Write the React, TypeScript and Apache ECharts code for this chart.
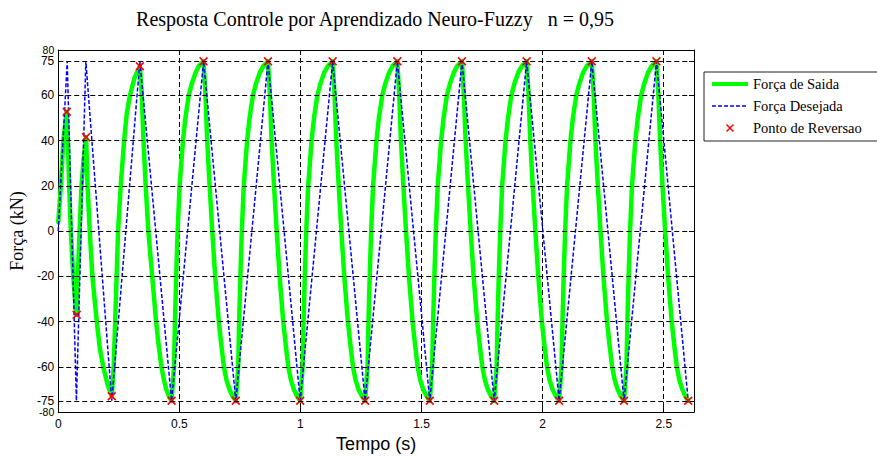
import React, { useEffect, useRef } from 'react';
import * as echarts from 'echarts';

const titulo = 'Resposta Controle por Aprendizado Neuro-Fuzzy   n = 0,95';
const nomeEixoX = 'Tempo (s)';
const nomeEixoY = 'Força (kN)';
const nomeSaida = 'Força de Saida';
const nomeDesejada = 'Força Desejada';
const nomeReversao = 'Ponto de Reversao';

const xTicks = [0, 0.5, 1, 1.5, 2, 2.5];
const yTicks = [-75, -60, -40, -20, 0, 20, 40, 60, 75];
const yTickTopo = [80];
const yTickBase = [-80];
const yGrade = [-75, -60, -40, -20, 0, 20, 40, 60, 75];

const forcaSaida: [number, number][] = [
  [0, 4], [0.011, 20], [0.021, 40], [0.035, 52.7],
  [0.04, 40], [0.045, 20], [0.052, 0], [0.062, -20], [0.069, -30], [0.076, -37],
  [0.081, -20], [0.088, 0], [0.096, 20], [0.105, 32], [0.115, 41.5],
  [0.121, 20], [0.13, 0], [0.141, -20], [0.159, -40], [0.172, -52], [0.186, -60], [0.204, -68], [0.221, -73],
  [0.229, -60], [0.235, -40], [0.241, -20], [0.247, 0], [0.258, 20], [0.272, 40], [0.283, 52], [0.296, 60], [0.316, 68], [0.337, 72.8],
  [0.345, 60], [0.352, 40], [0.361, 20], [0.372, 0], [0.388, -20], [0.404, -40], [0.414, -50], [0.426, -60], [0.437, -66], [0.446, -70], [0.457, -73], [0.468, -75],
  [0.478, -60], [0.482, -40], [0.487, -20], [0.493, 0], [0.501, 20], [0.515, 40], [0.525, 50], [0.539, 60], [0.551, 65], [0.567, 70], [0.581, 73], [0.6, 75],
  [0.608, 60], [0.615, 40], [0.625, 20], [0.636, 0], [0.648, -20], [0.663, -40], [0.673, -50], [0.684, -60], [0.695, -66], [0.707, -70], [0.72, -73], [0.733, -75],
  [0.743, -60], [0.747, -40], [0.752, -20], [0.758, 0], [0.766, 20], [0.78, 40], [0.79, 50], [0.804, 60], [0.816, 65], [0.832, 70], [0.847, 73], [0.866, 75],
  [0.874, 60], [0.881, 40], [0.891, 20], [0.902, 0], [0.914, -20], [0.929, -40], [0.939, -50], [0.95, -60], [0.961, -66], [0.973, -70], [0.986, -73], [0.999, -75],
  [1.009, -60], [1.013, -40], [1.018, -20], [1.024, 0], [1.032, 20], [1.046, 40], [1.056, 50], [1.07, 60], [1.082, 65], [1.098, 70], [1.114, 73], [1.133, 75],
  [1.141, 60], [1.148, 40], [1.158, 20], [1.169, 0], [1.181, -20], [1.196, -40], [1.206, -50], [1.217, -60], [1.228, -66], [1.24, -70], [1.254, -73], [1.267, -75],
  [1.277, -60], [1.281, -40], [1.286, -20], [1.292, 0], [1.3, 20], [1.314, 40], [1.324, 50], [1.338, 60], [1.35, 65], [1.366, 70], [1.381, 73], [1.4, 75],
  [1.408, 60], [1.415, 40], [1.425, 20], [1.436, 0], [1.448, -20], [1.463, -40], [1.473, -50], [1.484, -60], [1.495, -66], [1.507, -70], [1.521, -73], [1.534, -75],
  [1.544, -60], [1.548, -40], [1.553, -20], [1.559, 0], [1.567, 20], [1.581, 40], [1.591, 50], [1.605, 60], [1.617, 65], [1.633, 70], [1.648, 73], [1.667, 75],
  [1.675, 60], [1.682, 40], [1.692, 20], [1.703, 0], [1.715, -20], [1.73, -40], [1.74, -50], [1.751, -60], [1.762, -66], [1.774, -70], [1.787, -73], [1.8, -75],
  [1.81, -60], [1.814, -40], [1.819, -20], [1.825, 0], [1.833, 20], [1.847, 40], [1.857, 50], [1.871, 60], [1.883, 65], [1.899, 70], [1.915, 73], [1.934, 75],
  [1.942, 60], [1.949, 40], [1.959, 20], [1.97, 0], [1.982, -20], [1.997, -40], [2.007, -50], [2.018, -60], [2.029, -66], [2.041, -70], [2.055, -73], [2.068, -75],
  [2.078, -60], [2.082, -40], [2.087, -20], [2.093, 0], [2.101, 20], [2.115, 40], [2.125, 50], [2.139, 60], [2.151, 65], [2.167, 70], [2.183, 73], [2.203, 75],
  [2.211, 60], [2.218, 40], [2.228, 20], [2.239, 0], [2.251, -20], [2.266, -40], [2.276, -50], [2.287, -60], [2.298, -66], [2.31, -70], [2.323, -73], [2.336, -75],
  [2.346, -60], [2.35, -40], [2.355, -20], [2.361, 0], [2.369, 20], [2.383, 40], [2.393, 50], [2.407, 60], [2.419, 65], [2.435, 70], [2.451, 73], [2.47, 75],
  [2.478, 60], [2.485, 40], [2.495, 20], [2.506, 0], [2.518, -20], [2.533, -40], [2.543, -50], [2.554, -60], [2.565, -66], [2.577, -70], [2.589, -73], [2.601, -75],
];

const forcaDesejada: [number, number][] = [
  [0, 0], [0.037, 75], [0.075, -75], [0.114, 75], [0.221, -75], [0.337, 75], [0.468, -75],
  [0.6, 75], [0.733, -75], [0.866, 75], [0.999, -75], [1.133, 75], [1.267, -75], [1.4, 75],
  [1.534, -75], [1.667, 75], [1.8, -75], [1.934, 75], [2.068, -75], [2.203, 75], [2.336, -75],
  [2.47, 75], [2.601, -75],
];

const pontosReversao: [number, number][] = [
  [0.035, 52.7], [0.076, -37], [0.115, 41.5], [0.221, -73], [0.337, 72.8], [0.468, -75],
  [0.6, 75], [0.733, -75], [0.866, 75], [0.999, -75], [1.133, 75], [1.267, -75], [1.4, 75],
  [1.534, -75], [1.667, 75], [1.8, -75], [1.934, 75], [2.068, -75], [2.203, 75], [2.336, -75],
  [2.47, 75], [2.601, -75],
];

const X_MAX = 2.625;
const SANS = 'Liberation Sans, Arial, sans-serif';
const SERIF = 'Liberation Serif, Times New Roman, serif';
const CRUZ = 'path://M1.3,0L5,3.7L8.7,0L10,1.3L6.3,5L10,8.7L8.7,10L5,6.3L1.3,10L0,8.7L3.7,5L0,1.3Z';

export default function App() {
  const ref = useRef<HTMLDivElement>(null);
  useEffect(() => {
    document.body.style.margin = '0';
    if (!ref.current) return;
    const chart = echarts.init(ref.current, undefined, { renderer: 'svg' });
    const axisLine = { show: true, onZero: false, lineStyle: { color: '#000', width: 1 } };
    const tick = { show: true, inside: true, length: 5, lineStyle: { color: '#000' } };
    const yLabel = { fontFamily: SANS, fontSize: 12, lineHeight: 11, color: '#000', margin: 4, hideOverlap: false };
    const eixoExtremo = (valores: number[], padding: number[]) => ({
      type: 'value', min: -80, max: 80, position: 'left', offset: 0,
      axisLine: { show: false, onZero: false },
      axisTick: { show: false },
      axisLabel: { ...yLabel, fontSize: 10.5, lineHeight: 9, padding, customValues: valores,
        showMinLabel: true, showMaxLabel: true },
      splitLine: { show: false },
    });
    chart.setOption({
      animation: false,
      backgroundColor: '#fff',
      title: {
        text: titulo,
        left: 375,
        top: 9,
        padding: 0,
        textAlign: 'center',
        textStyle: { fontFamily: SERIF, fontSize: 20, fontWeight: 'normal', color: '#000' },
      },
      grid: { left: 56, right: 183, top: 50, bottom: 44, containLabel: false },
      xAxis: [
        {
          type: 'value', min: 0, max: X_MAX, interval: 0.5,
          name: nomeEixoX, nameLocation: 'middle', nameGap: 22,
          nameTextStyle: { fontFamily: SANS, fontSize: 18, color: '#000' },
          axisLine,
          axisTick: { ...tick, customValues: xTicks },
          axisLabel: { fontFamily: SANS, fontSize: 12, color: '#000', margin: 6,
            customValues: xTicks, hideOverlap: false },
          splitLine: { show: true, lineStyle: { color: '#000', width: 1, type: [5, 3] } },
        },
        {
          type: 'value', min: 0, max: X_MAX, interval: 0.5, position: 'top',
          axisLine,
          axisTick: { ...tick, customValues: xTicks },
          axisLabel: { show: false },
          splitLine: { show: false },
        },
      ],
      yAxis: [
        {
          type: 'value', min: -80, max: 80,
          name: nomeEixoY, nameLocation: 'middle', nameGap: 19,
          nameTextStyle: { fontFamily: SERIF, fontSize: 18, color: '#000' },
          axisLine,
          axisTick: { ...tick, customValues: yTicks },
          axisLabel: { ...yLabel, customValues: yTicks },
          splitLine: { show: false },
        },
        {
          type: 'value', min: -80, max: 80, position: 'right',
          axisLine,
          axisTick: { ...tick, customValues: yTicks },
          axisLabel: { show: false },
          splitLine: { show: false },
        },
        eixoExtremo(yTickTopo, [0, 0, 4, 0]),
        eixoExtremo(yTickBase, [4, 0, 0, 0]),
      ],
      series: [
        {
          name: 'grade', type: 'line', data: [], z: 1, silent: true,
          markLine: {
            silent: true, symbol: ['none', 'none'], label: { show: false },
            lineStyle: { color: '#000', width: 1, type: [5, 3] },
            emphasis: { disabled: true },
            data: yGrade.map((v) => ({ yAxis: v })),
          },
        },
        {
          name: nomeSaida, type: 'line', data: forcaSaida, z: 2,
          showSymbol: false, symbol: 'none',
          lineStyle: { color: '#00ff00', width: 4.5, cap: 'round', join: 'round' },
          itemStyle: { color: '#00ff00' },
        },
        {
          name: nomeDesejada, type: 'line', data: forcaDesejada, z: 3,
          showSymbol: false, symbol: 'none',
          lineStyle: { color: '#0000ff', width: 1.5, type: [4, 2] },
          itemStyle: { color: '#0000ff' },
        },
        {
          name: nomeReversao, type: 'scatter', data: pontosReversao, z: 4,
          symbol: CRUZ, symbolSize: 9,
          itemStyle: { color: '#ff0000', opacity: 1 },
        },
      ],
      graphic: [
        {
          type: 'group', z: 100,
          children: [
            { type: 'rect', shape: { x: 704, y: 72, width: 200, height: 69 },
              style: { fill: '#fff', stroke: '#222', lineWidth: 1 } },
            { type: 'line', shape: { x1: 712, y1: 84, x2: 748, y2: 84 },
              style: { stroke: '#00ff00', lineWidth: 4 } },
            { type: 'line', shape: { x1: 712, y1: 106, x2: 748, y2: 106 },
              style: { stroke: '#0000ff', lineWidth: 1.5, lineDash: [4, 2] } },
            { type: 'line', shape: { x1: 726.5, y1: 124.5, x2: 733.5, y2: 131.5 },
              style: { stroke: '#ff0000', lineWidth: 1.5 } },
            { type: 'line', shape: { x1: 733.5, y1: 124.5, x2: 726.5, y2: 131.5 },
              style: { stroke: '#ff0000', lineWidth: 1.5 } },
            { type: 'text', x: 753, y: 84,
              style: { text: nomeSaida, fill: '#000', font: `14.5px ${SERIF}`, textVerticalAlign: 'middle' } },
            { type: 'text', x: 753, y: 106,
              style: { text: nomeDesejada, fill: '#000', font: `14.5px ${SERIF}`, textVerticalAlign: 'middle' } },
            { type: 'text', x: 753, y: 128,
              style: { text: nomeReversao, fill: '#000', font: `14.5px ${SERIF}`, textVerticalAlign: 'middle' } },
          ],
        },
      ],
    });
    return () => chart.dispose();
  }, []);
  return <div ref={ref} style={{ width: 877, height: 458 }} />;
}
